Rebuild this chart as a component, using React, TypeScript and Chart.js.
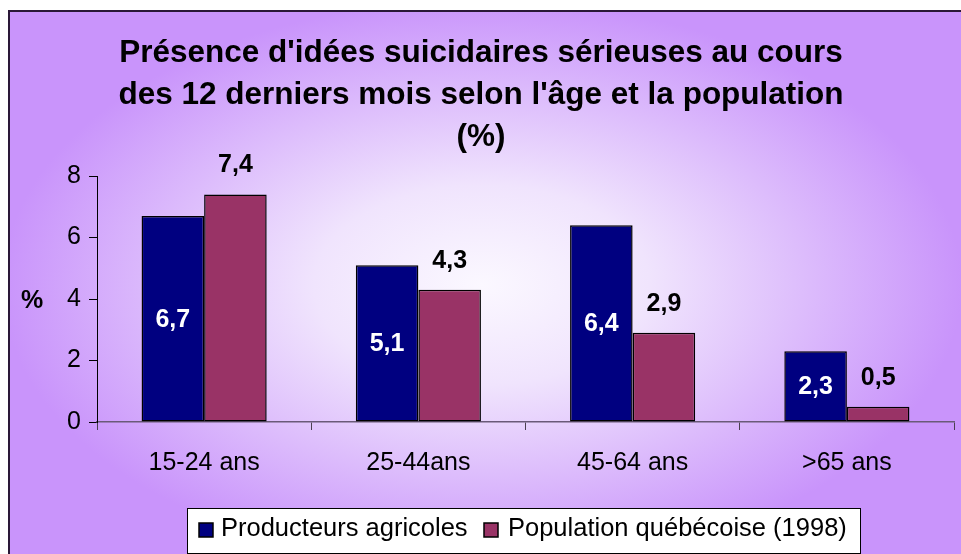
import React, { useEffect, useRef } from "react";
import { Chart, registerables } from "chart.js";

Chart.register(...registerables);

const categories = ["15-24 ans", "25-44ans", "45-64 ans", ">65 ans"];
const producteurs = [6.7, 5.1, 6.4, 2.3];
const population = [7.4, 4.3, 2.9, 0.5];
const seriesNames = ["Producteurs agricoles", "Population québécoise (1998)"];
const titleLines = [
  "Présence d'idées suicidaires sérieuses au cours",
  "des 12 derniers mois selon l'âge et la population",
  "(%)",
];
const yTicks = [0, 2, 4, 6, 8];

const NAVY = "#000080";
const MAROON = "#993366";
const FONT = "'Liberation Sans', Arial, sans-serif";

const fmt = (v: number) => v.toFixed(1).replace(".", ",");

const decorPlugin = {
  id: "decor",
  beforeDraw(chart: any) {
    const ctx = chart.ctx as CanvasRenderingContext2D;
    const W = chart.width;
    const H = chart.height;
    ctx.save();
    ctx.fillStyle = "#ffffff";
    ctx.fillRect(0, 0, W, H);
    const fx = 8, fy = 10, fw = 980, fh = 570;
    const cx = 482, cy = 285;
    const rx = 480, ry = 285;
    ctx.save();
    ctx.beginPath();
    ctx.rect(fx, fy, fw, fh);
    ctx.clip();
    ctx.translate(cx, cy);
    ctx.scale(1, ry / rx);
    const g = ctx.createRadialGradient(0, 0, 0, 0, 0, rx);
    g.addColorStop(0, "#fbf8ff");
    g.addColorStop(0.35, "#f0e4fd");
    g.addColorStop(1, "#c994fb");
    ctx.fillStyle = g;
    ctx.fillRect(-rx * 2, -rx * 2, rx * 4, rx * 4);
    ctx.restore();
    ctx.strokeStyle = "#2a1838";
    ctx.lineWidth = 2;
    ctx.strokeRect(fx + 1, fy + 1, fw, fh);
    ctx.restore();
  },
  afterDraw(chart: any) {
    const ctx = chart.ctx as CanvasRenderingContext2D;
    ctx.save();
    ctx.fillStyle = "#000";
    ctx.font = `bold 31.5px ${FONT}`;
    ctx.textAlign = "center";
    ctx.textBaseline = "alphabetic";
    const baselines = [62, 104, 146];
    titleLines.forEach((t, i) => ctx.fillText(t, 481, baselines[i]));
    ctx.font = `bold 25px ${FONT}`;
    ctx.textBaseline = "middle";
    ctx.fillText("%", 32, 301);
    const m0 = chart.getDatasetMeta(0);
    const m1 = chart.getDatasetMeta(1);
    ctx.font = `bold 25px ${FONT}`;
    m0.data.forEach((el: any, i: number) => {
      ctx.fillStyle = "#ffffff";
      ctx.fillText(fmt(producteurs[i]), el.x, (el.y + el.base) / 2 + 1);
    });
    m1.data.forEach((el: any, i: number) => {
      ctx.fillStyle = "#000000";
      ctx.fillText(fmt(population[i]), el.x, el.y - 29);
    });
    const lx = 187, ly = 508, lw = 673, lh = 45;
    ctx.fillStyle = "#ffffff";
    ctx.fillRect(lx, ly, lw, lh);
    ctx.strokeStyle = "#000";
    ctx.lineWidth = 1;
    ctx.strokeRect(lx + 0.5, ly + 0.5, lw, lh);
    const items = [
      { sq: 199, tx: 221, color: NAVY, text: seriesNames[0] },
      { sq: 484, tx: 508, color: MAROON, text: seriesNames[1] },
    ];
    ctx.font = `25.5px ${FONT}`;
    ctx.textAlign = "left";
    ctx.textBaseline = "middle";
    items.forEach((it) => {
      ctx.fillStyle = it.color;
      ctx.fillRect(it.sq, 523, 14, 14);
      ctx.strokeStyle = "#000";
      ctx.lineWidth = 1.5;
      ctx.strokeRect(it.sq, 523, 14, 14);
      ctx.fillStyle = "#000";
      ctx.fillText(it.text, it.tx, 529);
    });
    ctx.restore();
  },
};

export default function App() {
  const ref = useRef<HTMLCanvasElement | null>(null);
  useEffect(() => {
    if (!ref.current) return;
    const chart = new Chart(ref.current, {
      type: "bar",
      data: {
        labels: categories,
        datasets: [
          {
            label: seriesNames[0],
            data: producteurs,
            backgroundColor: NAVY,
            borderColor: "#000",
            borderWidth: 1.5,
            borderSkipped: false,
          },
          {
            label: seriesNames[1],
            data: population,
            backgroundColor: MAROON,
            borderColor: "#000",
            borderWidth: 1.5,
            borderSkipped: false,
          },
        ],
      },
      options: {
        responsive: false,
        animation: false,
        devicePixelRatio: 1,
        layout: { padding: { top: 176, right: 7, bottom: 0, left: 0 } },
        datasets: { bar: { categoryPercentage: 0.584, barPercentage: 1 } },
        plugins: {
          legend: { display: false },
          title: { display: false },
          tooltip: { enabled: false },
        },
        scales: {
          x: {
            grid: {
              offset: true,
              drawOnChartArea: false,
              drawTicks: true,
              tickLength: 8,
              color: "#4a4050",
            },
            border: { display: true, color: "#6a5a78", width: 1.5 },
            ticks: {
              color: "#000",
              font: { family: FONT, size: 25 },
              padding: 18,
              maxRotation: 0,
            },
            afterFit: (s: any) => {
              s.height = 132;
            },
          },
          y: {
            min: 0,
            max: 8,
            afterBuildTicks: (s: any) => {
              s.ticks = yTicks.map((v) => ({ value: v }));
            },
            grid: {
              drawOnChartArea: false,
              drawTicks: true,
              tickLength: 8,
              color: "#000",
            },
            border: { display: true, color: "#000", width: 1 },
            ticks: {
              color: "#000",
              font: { family: FONT, size: 25 },
              padding: 8,
            },
            afterFit: (s: any) => {
              s.width = 97;
            },
          },
        },
      },
      plugins: [decorPlugin],
    });
    return () => chart.destroy();
  }, []);
  return (
    <div style={{ position: "fixed", left: 0, top: 0, width: 961, height: 554 }}>
      <canvas ref={ref} width={961} height={554} style={{ display: "block" }} />
    </div>
  );
}
